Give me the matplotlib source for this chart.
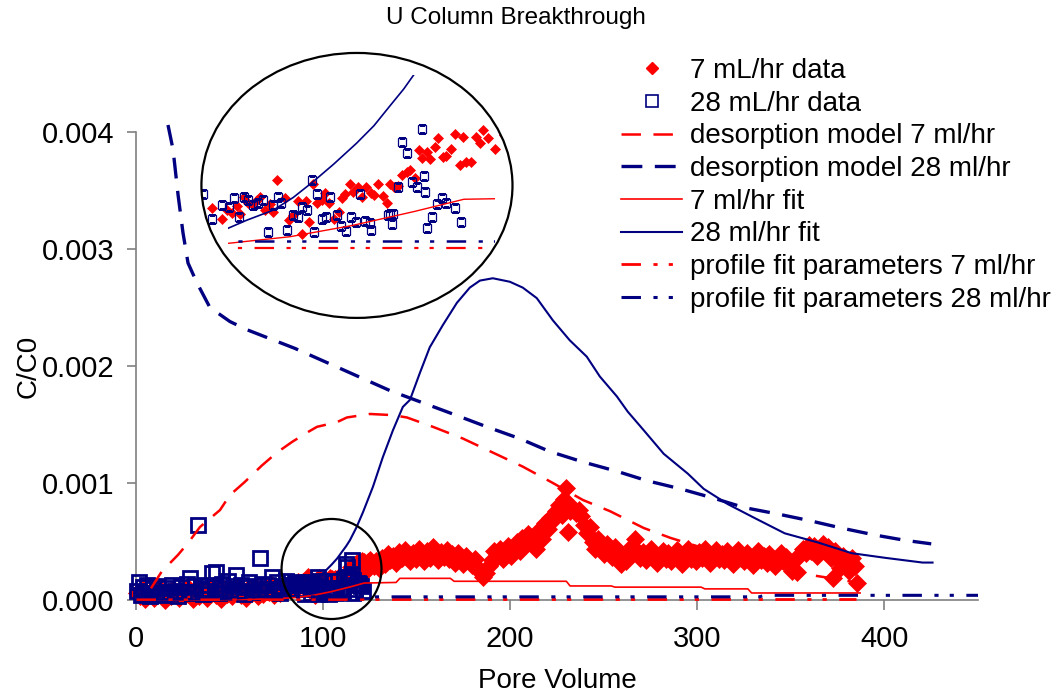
import numpy as np
import matplotlib.pyplot as plt
from matplotlib.patches import Ellipse
from matplotlib.lines import Line2D
from matplotlib.ticker import FormatStrFormatter

plt.rcParams['font.family'] = ['Liberation Sans', 'DejaVu Sans']
plt.rcParams['lines.scale_dashes'] = False

RED = '#ff0000'
NAVY = '#000080'
GREY = '#808080'

# ---- measured data (C/C0 kept in units of 1e-4) ----
pv_7 = [0.5, 2, 3.5, 5, 6.5, 8, 9.5, 11, 12.5, 14, 15.5, 17, 18.5, 20, 21.5, 23, 24.5, 26,
        27.5, 29, 30.5, 32, 33.5, 35, 36.5, 38, 39.5, 41, 42.5, 44, 45.5, 47, 48.5, 50,
        51.5, 53, 54.5, 56, 57.5, 59, 60.5, 62, 63.5, 65, 66.5, 68, 69.5, 71, 72.5, 74,
        75.5, 77, 78.5, 80, 81.5, 83,
        83.9, 84.6, 85.4, 85.9, 86.6, 87.3, 87.8, 88.6, 89.2, 90.0, 90.8, 91.2, 91.9,
        93.2, 93.9, 94.5, 95.2, 95.9, 96.6, 97.1, 97.7, 98.3, 99.1, 99.7, 100.3, 101.0,
        101.8, 102.3, 102.8, 103.6, 104.2, 104.9, 105.5, 106.3, 107.1, 107.5, 108.1,
        108.9, 109.6, 110.1, 110.7, 111.4, 112.1, 112.8, 113.3, 114.1, 114.8, 115.3,
        116.1, 116.6, 117.3, 117.9, 118.7, 119.1, 119.9, 120.6, 121.3, 121.9, 122.4,
        123.1, 123.9, 124.6, 125.1, 125.8,
        127.0, 128.5, 130.0, 131.5, 133.0, 134.5, 136.0, 137.5, 139.0, 140.5, 142.0,
        143.5, 145.0, 146.5, 148.0, 149.5, 151.0, 152.5, 154.0, 155.5, 157.0, 158.5,
        160.0, 161.5, 163.0, 164.5, 166.0, 167.5, 169.0, 170.5, 172.0, 173.5, 175.0,
        176.5, 178.0, 179.5, 181.0, 182.5, 184.0, 185.5, 187.0, 188.5, 190.0, 191.5,
        193.0, 194.5, 196.0, 197.5, 199.0, 200.5, 202.0, 203.5, 205.0, 206.5, 208.0,
        209.5, 211.0, 212.5, 214.0, 215.5, 217.0, 218.5, 220.0, 221.5, 223.0, 224.5,
        226.0, 227.5, 229.0, 230.0, 231.0, 232.0, 233.5, 235.0, 236.5, 238.0, 239.5,
        241.0, 242.5, 244.0, 245.5, 247.0, 248.5, 250.0, 251.5, 253.0, 254.5, 256.0,
        257.5, 259.0, 260.5, 262.0, 263.5, 265.0, 266.5, 268.0, 269.5, 271.0, 272.5,
        274.0, 275.5, 277.0, 278.5, 280.0, 281.5, 283.0, 284.5, 286.0, 287.5, 289.0,
        290.5, 292.0, 293.5, 295.0, 296.5, 298.0, 299.5, 301.0, 302.5, 304.0, 305.5,
        307.0, 308.5, 310.0, 311.5, 313.0, 314.5, 316.0, 317.5, 319.0, 320.5, 322.0,
        323.5, 325.0, 326.5, 328.0, 329.5, 331.0, 332.5, 334.0, 335.5, 337.0, 338.5,
        340.0, 341.5, 343.0, 344.5, 346.0, 347.5, 349.0, 350.5, 352.0, 353.5, 355.0,
        356.5, 358.0, 359.5, 361.0, 362.5, 364.0, 365.5, 367.0, 368.5, 370.0, 371.5,
        372.5, 373.5, 375.0, 376.5, 378.0, 379.5, 381.0, 382.5, 384.0, 385.5]
c_7 = [0.6, 0.3, 0.9, 0.1, 0.5, 0.8, 0.2, 0.6, 1.0, 0.4, 0.0, 0.7, 0.3, 0.9, 0.5, 0.2, 0.8, 0.4,
       1.1, 0.6, 0.1, 0.7, 0.3, 0.9, 0.5, 0.2, 0.8, 1.2, 0.4, 0.7, 0.1, 0.9, 0.5, 1.0,
       0.3, 0.7, 1.1, 0.4, 0.8, 0.2, 1.0, 0.6, 1.2, 0.3, 0.9, 0.5, 1.1, 0.7, 1.3, 0.4,
       1.0, 0.6, 1.3, 0.8, 1.2, 0.9,
       1.14, 1.07, 1.27, 1.03, 1.52, 1.35, 1.31, 1.43, 1.52, 1.14, 1.31, 1.10, 2.0,
       1.50, 0.86, 1.0, 1.41, 0.46, 1.41, 0.81, 1.89, 1.35, 1.43, 1.62, 1.33, 0.9,
       1.1, 1.48, 1.6, 1.89, 1.67, 1.79, 1.52, 1.79, 1.62, 1.57, 1.9,
       1.54, 1.33, 1.9, 1.79, 1.83, 2.14, 2.24, 2.3, 2.05, 2.86, 2.62,
       2.81, 2.59, 2.95, 3.19, 2.65, 2.69, 2.88, 3.31, 2.43, 3.22, 2.52,
       2.52, 3.22, 3.05, 3.43, 3.19,
       2.9, 3.3, 2.7, 3.6, 3.1, 3.9, 3.4, 3.8, 3.2, 4.1, 3.6,
       4.3, 3.7, 3.3, 4.0, 3.5, 4.4, 3.9, 3.3, 4.2, 3.6, 4.5,
       3.9, 3.4, 4.1, 3.7, 4.3, 3.5, 3.9, 3.2, 4.0, 3.6, 3.1,
       3.8, 3.4, 3.0, 3.5, 2.8, 2.4, 2.0, 2.3, 2.9, 3.4, 4.2,
       3.7, 4.4, 3.5, 3.9, 4.6, 3.8, 4.3, 5.0, 4.2, 5.3, 4.7,
       5.6, 4.9, 5.4, 4.4, 6.0, 5.2, 6.6, 6.1, 7.0, 6.8, 7.6,
       8.1, 7.3, 8.6, 9.6, 5.8, 7.6, 7.9, 7.4, 7.7, 7.2, 6.4,
       5.7, 6.2, 5.0, 4.4, 5.2, 4.6, 3.9, 4.8, 4.3, 3.7, 4.5,
       3.5, 3.1, 3.8, 3.3, 4.0, 4.6, 5.2, 4.2, 3.6, 4.1, 3.4,
       3.9, 4.4, 3.6, 3.2, 3.8, 4.2, 3.5, 4.0, 3.3, 3.7, 4.3,
       3.6, 3.1, 3.9, 4.4, 3.5, 3.9, 3.3, 4.1, 3.6, 4.4, 3.8,
       3.2, 3.7, 4.3, 3.5, 3.9, 3.4, 4.2, 3.6, 3.1, 3.8, 4.3,
       3.6, 3.3, 4.0, 3.5, 3.0, 3.7, 4.2, 3.4, 3.8, 3.2, 3.9,
       3.5, 2.9, 3.6, 4.0, 3.3, 3.7, 3.1, 2.5, 3.4, 2.4, 3.9,
       4.4, 4.0, 4.7, 4.2, 4.6, 3.8, 4.4, 4.8, 4.1, 4.5, 3.6,
       1.9, 4.2, 3.4, 2.7, 3.8, 3.2, 2.5, 3.6, 2.9, 1.45]

pv_28 = [0.5, 1.5, 2.5, 3.5, 4.5, 6, 7.5, 9, 10.5, 12, 13.5, 15, 16.5, 18, 19.5, 21, 22.5,
         24, 25.5, 27, 28.8, 30, 31.5, 33.3, 34.5, 36, 37.5, 39, 40.6, 42, 43, 44.5, 46,
         47.5, 49, 50.5, 52, 53.4, 54.5, 56, 57.5, 59, 60.5, 62, 63.5, 65, 66.2, 67.5,
         69, 70.5, 72.6, 74, 75.5, 77, 78.5, 80, 81.5, 83,
         84.2, 84.9, 85.8, 86.5, 87.3, 88.1, 88.9, 89.7, 90.5, 91.3, 92.0, 92.6, 93.5,
         94.4, 95.2, 95.9, 96.7, 97.5, 97.9, 98.3, 99.1, 99.8, 100.5, 101.5, 102.2,
         103.0, 103.8, 104.6, 105.3, 106.0, 106.9, 107.1, 109.7, 110.1, 110.4, 110.6,
         111.3, 112.0, 112.9, 113.7, 114.5, 115.3, 115.6, 115.8, 116.1, 116.9, 117.6,
         118.4, 119.1, 120.5, 121.5]
c_28 = [0.8, 1.5, 0.4, 1.1, 0.6, 1.3, 0.3, 0.9, 0.5, 1.2, 0.7, 0.4, 1.0, 0.6, 1.3, 0.8, 0.3,
        1.1, 0.7, 1.4, 1.9, 0.6, 1.2, 6.4, 0.9, 0.5, 1.3, 0.8, 2.3, 1.1, 2.4, 0.6, 1.4,
        0.9, 1.6, 0.7, 1.2, 2.1, 0.8, 1.3, 0.5, 1.1, 1.5, 0.7, 1.2, 0.9, 3.6, 1.4,
        0.8, 1.3, 2.0, 0.9, 1.5, 0.6, 1.2, 1.6, 0.9, 1.3,
        1.24, 1.49, 0.95, 1.52, 1.43, 1.29, 1.33, 1.43, 0.52, 1.29, 1.52, 1.33, 0.57,
        1.0, 0.95, 1.24, 1.14, 2.0, 0.52, 1.6, 0.88, 0.95, 1.52, 1.0, 0.69,
        0.55, 0.95, 0.79, 1.6, 0.84, 0.78, 0.57, 1.0, 1.02, 0.74, 1.03,
        1.81, 3.08, 2.78, 1.95, 1.79, 3.46, 2.12, 1.67, 0.63, 0.95, 1.31,
        1.49, 1.33, 1.2, 0.8]

# ---- model curves (C/C0 in units of 1e-4) ----
pv_des7 = [8, 13.7, 22.4, 27.8, 34.2, 44.9, 50.2, 58.2, 67.3, 75.3, 83.3, 91.3, 96.7, 107.4,
           112.7, 125, 137.3, 144.8, 158.7, 174.7, 190.7, 206.7, 222.8, 238.8, 253.2,
           271.4, 285.8, 310, 330, 350, 370, 385]
c_des7 = [1.0, 2.42, 3.85, 4.87, 6.24, 7.69, 8.97, 10.1, 11.5, 12.6, 13.5, 14.3, 14.8, 15.2,
          15.6, 15.9, 15.8, 15.6, 14.8, 13.8, 12.6, 11.4, 10.0, 8.55, 7.6,
          6.15, 5.3, 4.1, 3.2, 2.4, 1.9, 1.5]

pv_des28 = [17.1, 19.8, 22.5, 25.1, 27.8, 32.6, 39.5, 50.2, 59.3, 85, 109, 135.7, 169.3,
            187.5, 205, 221, 238.8, 257, 273, 291, 308.8, 325, 343, 359.5, 377, 395, 411,
            425]
c_des28 = [40.6, 38.5, 34.6, 31.4, 28.8, 27.1, 25.0, 23.8, 23.1, 21.5, 19.8, 17.9, 15.9,
           14.8, 13.8, 12.7, 11.8, 11.0, 10.2, 9.5, 8.7, 7.9, 7.35, 6.8, 6.15, 5.55, 5.1,
           4.8]

pv_fit7 = [0, 40, 70, 84, 94, 104, 114, 122, 139, 141, 168, 170, 230, 232, 254, 256, 302,
           304, 327, 329, 387]
c_fit7 = [0.0, 0.02, 0.08, 0.19, 0.38, 0.7, 1.1, 1.45, 1.5, 1.85, 1.85, 1.6, 1.6, 1.2, 1.2,
          1.1, 1.1, 0.95, 0.95, 0.6, 0.6]

pv_fit28 = [0, 50, 70, 84, 87, 91.3, 94.5, 97.7, 101, 104.7, 107.5, 110, 112.3, 114.3, 117.8,
            121.3, 126.6, 131.9, 137.3, 142.6, 146.4, 151.7, 157, 164, 171.5, 178.4, 183.8,
            190.7, 199.8, 206.7, 214.2, 222.8, 231.8, 240.9, 247.9, 257, 262.8, 271.4, 282,
            294.9, 303.4, 316.2, 330.7, 346.7, 364.8, 382.5, 400.6, 420.4, 425.7]
c_fit28 = [0.0, 0.1, 0.3, 0.62, 0.85, 1.14, 1.5, 1.95, 2.45, 3.05, 3.55, 4.1, 4.6, 5.1, 6.2,
           7.5, 9.66, 12.2, 14.5, 16.5, 17.1, 19.4, 21.6, 23.5, 25.4, 26.7, 27.3,
           27.5, 27.2, 26.7, 25.8, 23.9, 22.2, 20.8, 19.1, 17.4, 16.1, 14.5, 12.5,
           10.8, 9.5, 8.2, 7.0, 5.7, 4.9, 4.0, 3.6, 3.2, 3.2]

pv_prof7 = [0, 385]
c_prof7 = [0.06, 0.06]
pv_prof28 = [0, 333, 336, 450]
c_prof28 = [0.27, 0.27, 0.4, 0.4]

# zoom window shown in the magnified inset
zoom_x = (84, 127)
zoom_c = (0.0, 5.0)

E4 = 1e-4


def to_c(v):
    return np.asarray(v) * E4


DASH = (14, 9)
DASH_DOT = (14, 9, 3, 8, 3, 9)


def draw_series(ax, big=True):
    """Draw every series on ax; big=True for the main panel, False for the inset."""
    arts = []
    arts += ax.plot(pv_7, to_c(c_7), ls='none', marker='D', ms=8.8 if big else 5.0,
                    mfc=RED, mec=RED, mew=0.5, zorder=3)
    arts += ax.plot(pv_28, to_c(c_28), ls='none', marker='s', ms=10 if big else 5.8,
                    mfc='none', mec=NAVY, mew=2.0 if big else 0.9, zorder=3)
    arts += ax.plot(pv_des7, to_c(c_des7), color=RED, lw=1.8, dashes=DASH, zorder=4)
    arts += ax.plot(pv_des28, to_c(c_des28), color=NAVY, lw=2.4, dashes=(15, 9), zorder=4)
    arts += ax.plot(pv_fit7, to_c(c_fit7), color=RED, lw=1.2 if big else 1.0, zorder=4)
    arts += ax.plot(pv_fit28, to_c(c_fit28), color=NAVY, lw=1.5 if big else 1.2, zorder=4)
    arts += ax.plot(pv_prof7, to_c(c_prof7), color=RED, lw=2.0 if big else 1.6,
                    dashes=DASH_DOT, zorder=4)
    arts += ax.plot(pv_prof28, to_c(c_prof28), color=NAVY, lw=2.2 if big else 1.8,
                    dashes=DASH_DOT, zorder=4)
    return arts


W, H = 1056, 694
fig = plt.figure(figsize=(W / 100, H / 100), dpi=100)
ax = fig.add_axes([136 / W, 94 / H, 842 / W, 468 / H])

for a in draw_series(ax, big=True):
    a.set_clip_on(False)

ax.set_xlim(0, 450)
ax.set_ylim(0, 0.004)
ax.set_xticks([0, 100, 200, 300, 400])
ax.set_yticks([0, 0.001, 0.002, 0.003, 0.004])
ax.yaxis.set_major_formatter(FormatStrFormatter('%.3f'))
for side in ('top', 'right'):
    ax.spines[side].set_visible(False)
for side in ('left', 'bottom'):
    ax.spines[side].set_color(GREY)
    ax.spines[side].set_linewidth(1.2)
ax.tick_params(axis='both', direction='out', color=GREY, width=1.2, labelsize=21)
ax.tick_params(axis='x', length=7, pad=11)
ax.tick_params(axis='y', length=6.5, pad=9)
ax.set_xlabel('Pore Volume', fontsize=20, labelpad=11)
ax.set_ylabel('C/C0', fontsize=20, labelpad=0)

fig.text(516 / W, 1 - 18 / H, 'U Column Breakthrough', ha='center', va='center',
         fontsize=17.5)

# circle marking the magnified region on the main axes
zx_mid = (78 + 131) / 2
ax.add_patch(Ellipse((zx_mid, 2.65 * E4), 53.4, 8.55 * E4, fill=False, ec='black',
                     lw=1.6, clip_on=False, zorder=5))

# magnified inset, clipped to an ellipse
axin = fig.add_axes([228 / W, 1 - 250 / H, 267 / W, 175 / H])
axin.axis('off')
axin.set_xlim(*zoom_x)
axin.set_ylim(zoom_c[0] * E4, zoom_c[1] * E4)
ell_fill = Ellipse((0.483, 0.369), 1.165, 1.514, transform=axin.transAxes,
                   facecolor='white', edgecolor='none', clip_on=False, zorder=0)
axin.add_patch(ell_fill)
for a in draw_series(axin, big=False):
    a.set_clip_path(ell_fill)
axin.add_patch(Ellipse((0.483, 0.369), 1.165, 1.514, transform=axin.transAxes,
                       fill=False, ec='black', lw=1.6, clip_on=False, zorder=6))

handles = [
    Line2D([], [], ls='none', marker='D', ms=6.6, mfc=RED, mec=RED),
    Line2D([], [], ls='none', marker='s', ms=9, mfc='none', mec=NAVY, mew=1.2),
    Line2D([], [], color=RED, lw=1.8, dashes=DASH),
    Line2D([], [], color=NAVY, lw=2.4, dashes=(15, 9)),
    Line2D([], [], color=RED, lw=1.2),
    Line2D([], [], color=NAVY, lw=1.5),
    Line2D([], [], color=RED, lw=2.0, dashes=DASH_DOT),
    Line2D([], [], color=NAVY, lw=2.2, dashes=DASH_DOT),
]
labels = ['7 mL/hr data', '28 mL/hr data', 'desorption model 7 ml/hr',
          'desorption model 28 ml/hr', '7 ml/hr fit', '28 ml/hr fit',
          'profile fit parameters 7 ml/hr', 'profile fit parameters 28 ml/hr']
fig.legend(handles, labels, loc='upper left', bbox_to_anchor=(621 / W, 1 - 58 / H),
           frameon=False, fontsize=20, handlelength=2.2, handletextpad=0.3,
           labelspacing=0.24, borderpad=0, borderaxespad=0)

fig.savefig('out.png', dpi=100)
